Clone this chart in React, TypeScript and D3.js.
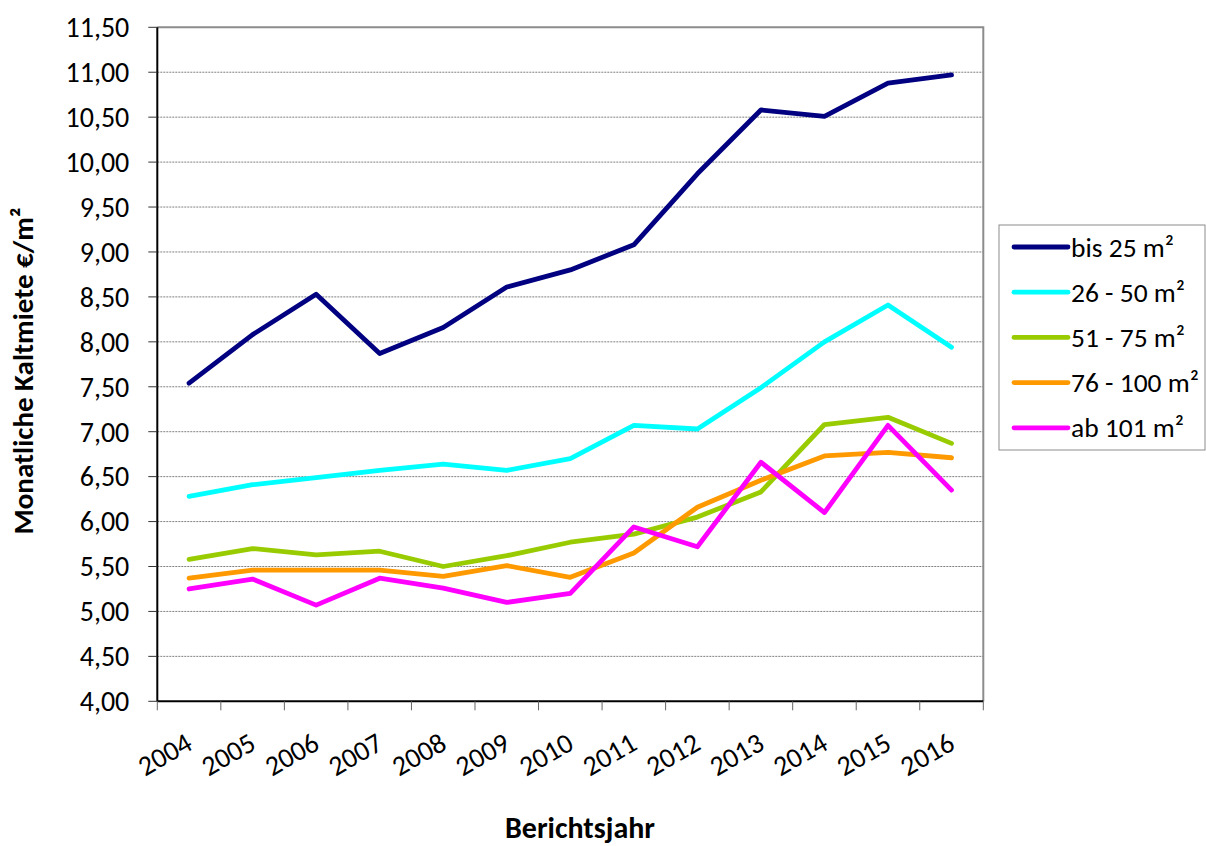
import React, { useEffect, useRef } from 'react';
import * as d3 from 'd3';

const years = ['2004', '2005', '2006', '2007', '2008', '2009', '2010', '2011', '2012', '2013', '2014', '2015', '2016'];

const bis25 = [7.54, 8.08, 8.53, 7.87, 8.16, 8.61, 8.80, 9.08, 9.87, 10.58, 10.51, 10.88, 10.97];
const m26to50 = [6.28, 6.41, 6.49, 6.57, 6.64, 6.57, 6.70, 7.07, 7.03, 7.49, 8.00, 8.41, 7.94];
const m51to75 = [5.58, 5.70, 5.63, 5.67, 5.50, 5.62, 5.77, 5.86, 6.05, 6.33, 7.08, 7.16, 6.87];
const m76to100 = [5.37, 5.46, 5.46, 5.46, 5.39, 5.51, 5.38, 5.65, 6.16, 6.46, 6.73, 6.77, 6.71];
const ab101 = [5.25, 5.36, 5.07, 5.37, 5.26, 5.10, 5.20, 5.94, 5.72, 6.66, 6.10, 7.07, 6.35];

const seriesNames = ['bis 25 m²', '26 - 50 m²', '51 - 75 m²', '76 - 100 m²', 'ab 101 m²'];
const seriesColors = ['#000080', '#00FFFF', '#99CC00', '#FF9900', '#FF00FF'];

const yTicks = [4, 4.5, 5, 5.5, 6, 6.5, 7, 7.5, 8, 8.5, 9, 9.5, 10, 10.5, 11, 11.5];

const FONT = 'Carlito, Lato, "Open Sans", sans-serif';

export default function App() {
  const ref = useRef<SVGSVGElement>(null);

  useEffect(() => {
    const svg = d3.select(ref.current);
    svg.selectAll('*').remove();

    const left = 157.3, right = 983.3, top = 27.3, bottom = 701.3;

    const x = d3.scaleBand().domain(years).range([left, right]);
    const y = d3.scaleLinear().domain([4, 11.5]).range([bottom, top]);

    // gridlines
    svg.append('g')
      .selectAll('line')
      .data(yTicks.slice(1, -1))
      .enter()
      .append('line')
      .attr('x1', left)
      .attr('x2', right)
      .attr('y1', d => y(d))
      .attr('y2', d => y(d))
      .attr('stroke', '#808080')
      .attr('stroke-width', 1)
      .attr('stroke-dasharray', '2,1');

    // plot frame (top/right gray)
    svg.append('path')
      .attr('d', `M${left},${top}H${right}V${bottom}`)
      .attr('fill', 'none')
      .attr('stroke', '#8c8c8c')
      .attr('stroke-width', 2);

    // y axis
    const yAxis = svg.append('g');
    yAxis.append('line')
      .attr('x1', left).attr('x2', left)
      .attr('y1', top).attr('y2', bottom)
      .attr('stroke', '#000').attr('stroke-width', 2);
    yAxis.selectAll('line.tick')
      .data(yTicks)
      .enter()
      .append('line')
      .attr('class', 'tick')
      .attr('x1', left - 9).attr('x2', left)
      .attr('y1', d => y(d)).attr('y2', d => y(d))
      .attr('stroke', '#333').attr('stroke-width', 1);
    yAxis.selectAll('text')
      .data(yTicks)
      .enter()
      .append('text')
      .attr('x', left - 28)
      .attr('y', d => y(d))
      .attr('dy', '0.35em')
      .attr('text-anchor', 'end')
      .style('font-family', FONT)
      .style('font-size', '28px')
      .attr('fill', '#000')
      .text(d => d3.format('.2f')(d).replace('.', ','));

    // x axis
    const xAxis = svg.append('g');
    xAxis.append('line')
      .attr('x1', left).attr('x2', right)
      .attr('y1', bottom).attr('y2', bottom)
      .attr('stroke', '#000').attr('stroke-width', 2);
    const edges = years.map(d => x(d) as number).concat([right]);
    xAxis.selectAll('line.tick')
      .data(edges)
      .enter()
      .append('line')
      .attr('class', 'tick')
      .attr('x1', d => d).attr('x2', d => d)
      .attr('y1', bottom).attr('y2', bottom + 9)
      .attr('stroke', '#666').attr('stroke-width', 1);
    xAxis.selectAll('text')
      .data(years)
      .enter()
      .append('text')
      .attr('transform', d => `translate(${(x(d) as number) + x.bandwidth() / 2 + 5},${bottom + 47}) rotate(-30)`)
      .attr('text-anchor', 'end')
      .style('font-family', FONT)
      .style('font-size', '28px')
      .attr('fill', '#000')
      .text(d => d);

    // lines
    const allSeries = [bis25, m26to50, m51to75, m76to100, ab101];
    const line = d3.line<number>()
      .x((d, i) => (x(years[i]) as number) + x.bandwidth() / 2)
      .y(d => y(d));

    svg.append('g')
      .selectAll('path')
      .data(allSeries)
      .enter()
      .append('path')
      .attr('d', d => line(d))
      .attr('fill', 'none')
      .attr('stroke', (d, i) => seriesColors[i])
      .attr('stroke-width', 4.8)
      .attr('stroke-linejoin', 'round')
      .attr('stroke-linecap', 'round');

    // axis titles
    svg.append('text')
      .attr('transform', `translate(33,371) rotate(-90)`)
      .attr('text-anchor', 'middle')
      .style('font-family', FONT)
      .style('font-size', '29px')
      .style('font-weight', 'bold')
      .text('Monatliche Kaltmiete €/m²');

    svg.append('text')
      .attr('x', 580)
      .attr('y', 838)
      .attr('text-anchor', 'middle')
      .style('font-family', FONT)
      .style('font-size', '30px')
      .style('font-weight', 'bold')
      .text('Berichtsjahr');

    // legend
    const legend = svg.append('g');
    legend.append('rect')
      .attr('x', 999).attr('y', 225)
      .attr('width', 206).attr('height', 225)
      .attr('fill', '#fff')
      .attr('stroke', '#8c8c8c')
      .attr('stroke-width', 1);
    const rows = legend.selectAll('g.row')
      .data(seriesNames)
      .enter()
      .append('g')
      .attr('class', 'row')
      .attr('transform', (d, i) => `translate(0,${247 + i * 45.2})`);
    rows.append('line')
      .attr('x1', 1014).attr('x2', 1068)
      .attr('y1', 0).attr('y2', 0)
      .attr('stroke', (d, i) => seriesColors[i])
      .attr('stroke-width', 4.8)
      .attr('stroke-linecap', 'round');
    rows.append('text')
      .attr('x', 1071)
      .attr('y', 0)
      .attr('dy', '0.35em')
      .style('font-family', FONT)
      .style('font-size', '27.5px')
      .text(d => d);
  }, []);

  return (
    <svg
      ref={ref}
      width={1206}
      height={846}
      style={{ position: 'absolute', left: 0, top: 0, background: '#fff' }}
    />
  );
}
